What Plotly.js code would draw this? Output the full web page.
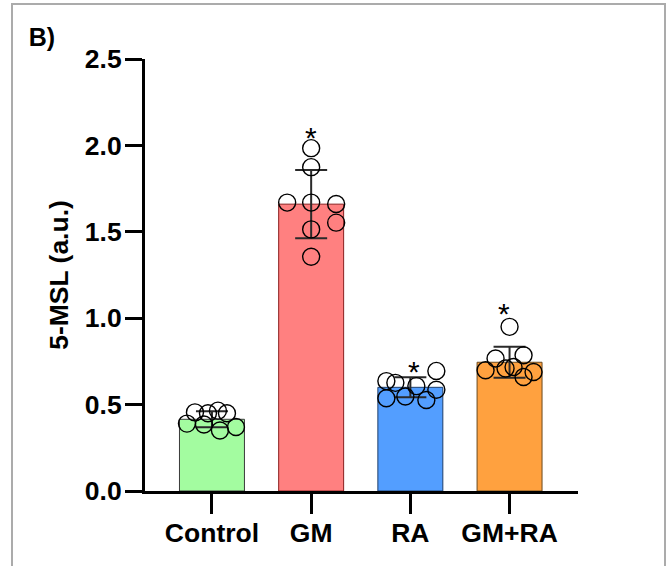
<!DOCTYPE html>
<html>
<head>
<meta charset="utf-8">
<script src="https://cdn.plot.ly/plotly-3.0.1.min.js"></script>
<style>
  html, body { margin: 0; padding: 0; background: #ffffff; }
  #wrap { position: relative; width: 666px; height: 566px; overflow: hidden; }
  #chart { position: absolute; left: 0; top: 0; width: 666px; height: 566px; }
  #frame { position: absolute; left: 11px; top: 3px; width: 651px; height: 600px;
           border: 2px solid #ababab; pointer-events: none; }
</style>
</head>
<body>
<div id="wrap">
  <div id="chart"></div>
  <div id="frame"></div>
</div>
<script>
// ---- data ----
const categories = ["Control", "GM", "RA", "GM+RA"];
const means = [0.415, 1.66, 0.60, 0.745];
const sds = [0.046, 0.197, 0.058, 0.090];
const pointsControl = [0.455, 0.45, 0.465, 0.45, 0.39, 0.385, 0.35, 0.37];
const pointsGM = [1.984, 1.874, 1.669, 1.669, 1.661, 1.553, 1.514, 1.356];
const pointsRA = [0.636, 0.626, 0.607, 0.695, 0.586, 0.537, 0.547, 0.527];
const pointsGMRA = [0.95, 0.767, 0.786, 0.699, 0.709, 0.718, 0.689, 0.66];
const sigLabels = ["", "*", "*", "*"];
const yTickVals = [0, 0.5, 1.0, 1.5, 2.0, 2.5];

// ---- styling / layout helpers ----
const barFill = ["#a3fca0", "#ff8080", "#539eff", "#ffa13f"];
const barEdge = ["#3a3a3a", "#8b1f1f", "#1f3f6b", "#6b4a1f"];
// horizontal scatter of the dots (pixel offsets from bar centre)
const jitterPx = [
  [-17, -4, 6, 15, -25, -8, 8, 24],
  [0, 0, -24, 0, 25, 25, 0, 0],
  [-24, -15, 6, 26, 26, -24, -5, 16],
  [0, -14, 14, -24, -4, 4, 24, 14]
];
const pxPerCat = 99.2;
const allPoints = [pointsControl, pointsGM, pointsRA, pointsGMRA];

const traces = [];
traces.push({
  type: "bar",
  x: [0, 1, 2, 3],
  y: means,
  width: 0.655,
  marker: { color: barFill, line: { color: barEdge, width: 1 } },
  error_y: { type: "data", array: sds, visible: true, color: "#2a2a2a", thickness: 2, width: 16 },
  showlegend: false,
  hoverinfo: "skip"
});
allPoints.forEach((pts, i) => {
  traces.push({
    type: "scatter",
    mode: "markers",
    x: pts.map((v, k) => i + jitterPx[i][k] / pxPerCat),
    y: pts,
    marker: { symbol: "circle-open", size: 17, color: "#000000", line: { width: 1.4 } },
    showlegend: false,
    hoverinfo: "skip"
  });
});

const starShift = [[0, 0], [0, -8], [4, -19], [-6, -5]];
const annotations = sigLabels.map((s, i) => ({
  x: i, y: Math.max(...allPoints[i]),
  xref: "x", yref: "y",
  text: s, showarrow: false,
  xshift: starShift[i][0], yshift: starShift[i][1],
  yanchor: "bottom",
  font: { family: "Liberation Sans, Arial, sans-serif", size: 30, color: "#000" }
})).filter(a => a.text !== "");

const boldFont = { family: "Liberation Sans, Arial, sans-serif", size: 26.5, color: "#000", weight: "bold" };

const layout = {
  width: 666, height: 566,
  margin: { l: 145, r: 88, t: 59, b: 75 },
  paper_bgcolor: "#ffffff",
  plot_bgcolor: "#ffffff",
  title: {
    text: "B)", xref: "container", yref: "container",
    x: 0.043, xanchor: "left", y: 0.934, yanchor: "middle",
    font: { family: "Liberation Sans, Arial, sans-serif", size: 25, color: "#000", weight: "bold" }
  },
  xaxis: {
    range: [-0.675, 3.69],
    tickmode: "array", tickvals: [0, 1, 2, 3], ticktext: categories,
    showline: true, linecolor: "#000", linewidth: 3,
    ticks: "outside", ticklen: 20, tickwidth: 3, tickcolor: "#000",
    tickfont: boldFont, ticklabelstandoff: -4,
    showgrid: false, zeroline: false, fixedrange: true
  },
  yaxis: {
    range: [0, 2.5],
    tickmode: "array", tickvals: yTickVals, ticktext: yTickVals.map(v => v.toFixed(1)),
    showline: true, linecolor: "#000", linewidth: 3,
    ticks: "outside", ticklen: 17, tickwidth: 3, tickcolor: "#000",
    tickfont: boldFont, ticklabelstandoff: -2,
    showgrid: false, zeroline: false, fixedrange: true,
    title: { text: "5-MSL (a.u.)", font: boldFont, standoff: 9 }
  },
  annotations: annotations,
  showlegend: false
};

Plotly.newPlot("chart", traces, layout, { displayModeBar: false, staticPlot: true });
</script>
</body>
</html>
